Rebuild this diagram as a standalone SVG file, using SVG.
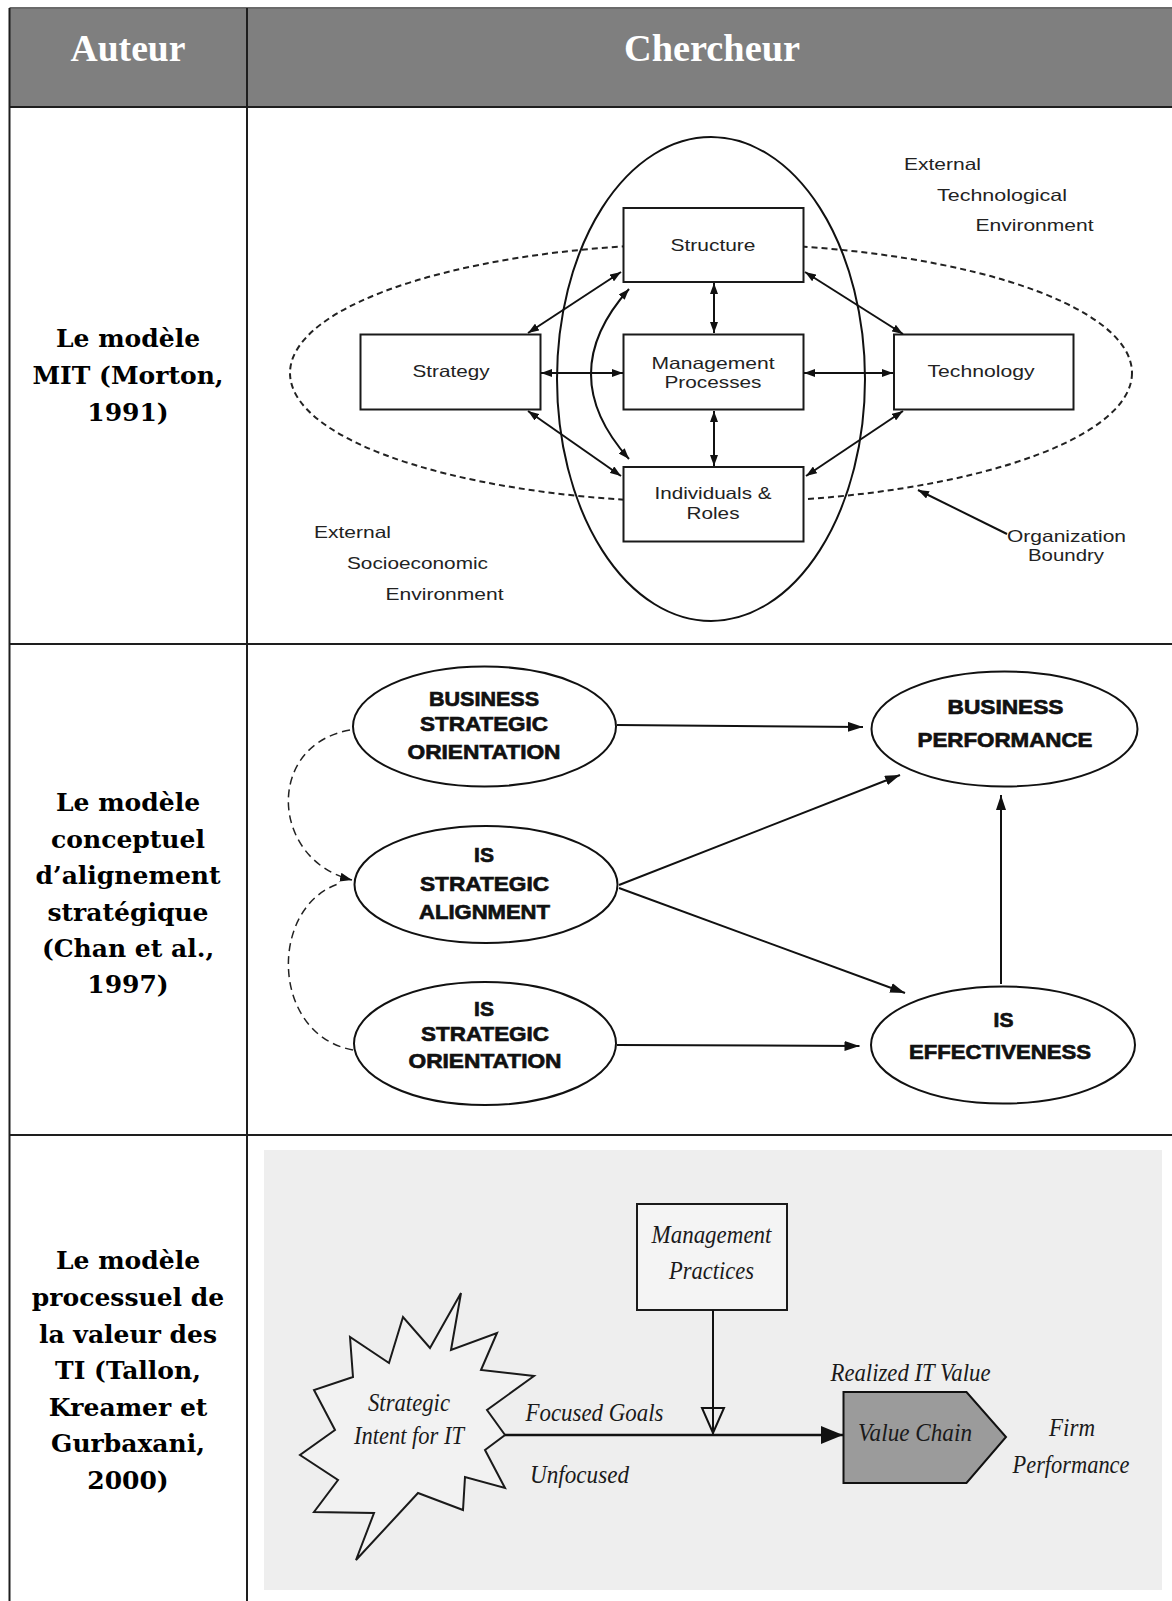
<svg xmlns="http://www.w3.org/2000/svg" width="1172" height="1601" viewBox="0 0 1172 1601">
<style>
.grid{stroke:#1e1e1e;stroke-width:2;fill:none}
.hdr{font-family:"Liberation Serif",serif;font-weight:bold;font-size:38px;fill:#fff;text-anchor:middle}
.lbl{font-family:"DejaVu Serif","Liberation Serif",serif;font-weight:bold;font-size:25px;fill:#000;text-anchor:middle}
.box{fill:#fff;stroke:#1a1a1a;stroke-width:2}
.mt{font-family:"Liberation Sans",Arial,sans-serif;font-size:16.5px;fill:#222;text-anchor:middle}
.mtl{font-family:"Liberation Sans",Arial,sans-serif;font-size:16.5px;fill:#222}
.ln{stroke:#111;stroke-width:2;fill:none}
.ov{fill:#fff;stroke:#111;stroke-width:2}
.ct{font-family:"Liberation Sans",Arial,sans-serif;font-weight:bold;font-size:21px;fill:#111;stroke:#111;stroke-width:0.7;text-anchor:middle}
.dash{stroke:#222;stroke-width:1.5;fill:none;stroke-dasharray:8 5}
.it{font-family:"Liberation Serif",serif;font-style:italic;font-size:26px;fill:#1a1a1a;text-anchor:middle}
.itl{font-family:"Liberation Serif",serif;font-style:italic;font-size:26px;fill:#1a1a1a}
</style>
<defs>
<marker id="mA" viewBox="0 0 11 8" refX="11" refY="4" markerWidth="11" markerHeight="8" markerUnits="userSpaceOnUse" orient="auto-start-reverse"><path d="M0,0 L11,4 L0,8 z" fill="#111"/></marker>
<marker id="mB" viewBox="0 0 15 10" refX="15" refY="5" markerWidth="15" markerHeight="10" markerUnits="userSpaceOnUse" orient="auto"><path d="M0,0 L15,5 L0,10 z" fill="#111"/></marker>
<marker id="mD" viewBox="0 0 12 9" refX="12" refY="4.5" markerWidth="12" markerHeight="9" markerUnits="userSpaceOnUse" orient="auto"><path d="M0,0 L12,4.5 L0,9 z" fill="#111"/></marker>
<marker id="mC" viewBox="0 0 22 18" refX="22" refY="9" markerWidth="22" markerHeight="18" markerUnits="userSpaceOnUse" orient="auto"><path d="M0,0 L22,9 L0,18 z" fill="#111"/></marker>
</defs>
<rect width="1172" height="1601" fill="#fff"/>

<!-- table -->
<g id="table">
<rect x="9.5" y="8" width="1162.5" height="99" fill="#7f7f7f"/>
<line x1="9.5" y1="8" x2="1172" y2="8" stroke="#6a6a6a" stroke-width="2"/>
<line class="grid" x1="9.5" y1="107" x2="1172" y2="107"/>
<line class="grid" x1="9.5" y1="644" x2="1172" y2="644"/>
<line class="grid" x1="9.5" y1="1135" x2="1172" y2="1135"/>
<line class="grid" x1="9.5" y1="8" x2="9.5" y2="1601"/>
<line class="grid" x1="247" y1="8" x2="247" y2="1601"/>
<text class="hdr" x="128" y="61" textLength="115" lengthAdjust="spacingAndGlyphs">Auteur</text>
<text class="hdr" x="712" y="61" textLength="176" lengthAdjust="spacingAndGlyphs">Chercheur</text>
<text class="lbl" x="128"><tspan x="128" y="347">Le modèle</tspan><tspan x="128" y="384">MIT (Morton,</tspan><tspan x="128" y="421">1991)</tspan></text>
<text class="lbl" x="128"><tspan x="128" y="811">Le modèle</tspan><tspan x="128" y="848">conceptuel</tspan><tspan x="128" y="884">d’alignement</tspan><tspan x="128" y="921">stratégique</tspan><tspan x="128" y="957">(Chan et al.,</tspan><tspan x="128" y="993">1997)</tspan></text>
<text class="lbl" x="128"><tspan x="128" y="1269">Le modèle</tspan><tspan x="128" y="1306">processuel de</tspan><tspan x="128" y="1343">la valeur des</tspan><tspan x="128" y="1379">TI (Tallon,</tspan><tspan x="128" y="1416">Kreamer et</tspan><tspan x="128" y="1452">Gurbaxani,</tspan><tspan x="128" y="1489">2000)</tspan></text>
</g>

<!-- ===== MIT model ===== -->
<g id="mit-boundaries">
<ellipse cx="711" cy="373" rx="421" ry="129.5" fill="none" stroke="#222" stroke-width="2" stroke-dasharray="6 4"/>
<ellipse cx="711" cy="379" rx="154" ry="242" fill="none" stroke="#111" stroke-width="2"/>
</g>
<g id="mit-structure"><rect class="box" x="623.5" y="208" width="180" height="74"/><text class="mt" x="713" y="251" textLength="85" lengthAdjust="spacingAndGlyphs">Structure</text></g>
<g id="mit-management"><rect class="box" x="623.5" y="334.5" width="180" height="75"/><text class="mt" x="713" y="368.5" textLength="123" lengthAdjust="spacingAndGlyphs">Management</text><text class="mt" x="713" y="387.5" textLength="97" lengthAdjust="spacingAndGlyphs">Processes</text></g>
<g id="mit-individuals"><rect class="box" x="623.5" y="467" width="180" height="74.5"/><text class="mt" x="713" y="499" textLength="117" lengthAdjust="spacingAndGlyphs">Individuals &amp;</text><text class="mt" x="713" y="518.5" textLength="53" lengthAdjust="spacingAndGlyphs">Roles</text></g>
<g id="mit-strategy"><rect class="box" x="360.5" y="334.5" width="180" height="75"/><text class="mt" x="451" y="377" textLength="77" lengthAdjust="spacingAndGlyphs">Strategy</text></g>
<g id="mit-technology"><rect class="box" x="894" y="334.5" width="179.5" height="75"/><text class="mt" x="981" y="377" textLength="107" lengthAdjust="spacingAndGlyphs">Technology</text></g>
<g id="mit-labels">
<text class="mtl" x="904" y="170" textLength="77" lengthAdjust="spacingAndGlyphs">External</text>
<text class="mtl" x="937" y="201" textLength="130" lengthAdjust="spacingAndGlyphs">Technological</text>
<text class="mtl" x="975.5" y="231" textLength="118" lengthAdjust="spacingAndGlyphs">Environment</text>
<text class="mtl" x="314" y="538" textLength="77" lengthAdjust="spacingAndGlyphs">External</text>
<text class="mtl" x="347" y="569" textLength="141" lengthAdjust="spacingAndGlyphs">Socioeconomic</text>
<text class="mtl" x="385.5" y="600" textLength="118" lengthAdjust="spacingAndGlyphs">Environment</text>
<text class="mtl" x="1007" y="542" textLength="119" lengthAdjust="spacingAndGlyphs">Organization</text>
<text class="mtl" x="1028" y="561" textLength="76" lengthAdjust="spacingAndGlyphs">Boundry</text>
</g>
<g id="mit-connectors">
<line class="ln" x1="528" y1="333" x2="621" y2="272" marker-start="url(#mA)" marker-end="url(#mA)"/>
<line class="ln" x1="528" y1="411" x2="621" y2="476" marker-start="url(#mA)" marker-end="url(#mA)"/>
<line class="ln" x1="805" y1="272" x2="903" y2="334" marker-start="url(#mA)" marker-end="url(#mA)"/>
<line class="ln" x1="806" y1="476" x2="903" y2="411" marker-start="url(#mA)" marker-end="url(#mA)"/>
<line class="ln" x1="541" y1="373" x2="623" y2="373" marker-start="url(#mA)" marker-end="url(#mA)"/>
<line class="ln" x1="804" y1="373" x2="893" y2="373" marker-start="url(#mA)" marker-end="url(#mA)"/>
<line class="ln" x1="714" y1="283" x2="714" y2="333" marker-start="url(#mA)" marker-end="url(#mA)"/>
<line class="ln" x1="714" y1="411" x2="714" y2="466" marker-start="url(#mA)" marker-end="url(#mA)"/>
<path class="ln" d="M629,289 Q553,374 629,459" marker-start="url(#mA)" marker-end="url(#mA)"/>
<line class="ln" x1="1007" y1="534" x2="918" y2="490" marker-end="url(#mA)"/>
</g>

<!-- ===== Chan model ===== -->
<g id="chan-bso"><ellipse class="ov" cx="484.5" cy="726.5" rx="131.5" ry="60"/>
<text class="ct" x="484" y="705.5" textLength="110" lengthAdjust="spacingAndGlyphs">BUSINESS</text>
<text class="ct" x="484" y="731" textLength="128" lengthAdjust="spacingAndGlyphs">STRATEGIC</text>
<text class="ct" x="484" y="759" textLength="153" lengthAdjust="spacingAndGlyphs">ORIENTATION</text></g>
<g id="chan-issa"><ellipse class="ov" cx="486" cy="884.5" rx="131.5" ry="58.5"/>
<text class="ct" x="484" y="862">IS</text>
<text class="ct" x="484.5" y="890.5" textLength="129" lengthAdjust="spacingAndGlyphs">STRATEGIC</text>
<text class="ct" x="484.5" y="919" textLength="131" lengthAdjust="spacingAndGlyphs">ALIGNMENT</text></g>
<g id="chan-isso"><ellipse class="ov" cx="485" cy="1043.5" rx="131" ry="61.5"/>
<text class="ct" x="484" y="1015.5">IS</text>
<text class="ct" x="485" y="1040.5" textLength="128" lengthAdjust="spacingAndGlyphs">STRATEGIC</text>
<text class="ct" x="485" y="1068" textLength="153" lengthAdjust="spacingAndGlyphs">ORIENTATION</text></g>
<g id="chan-bp"><ellipse class="ov" cx="1004.5" cy="729" rx="133" ry="57.5"/>
<text class="ct" x="1005.5" y="714" textLength="116" lengthAdjust="spacingAndGlyphs">BUSINESS</text>
<text class="ct" x="1005" y="747" textLength="175" lengthAdjust="spacingAndGlyphs">PERFORMANCE</text></g>
<g id="chan-ise"><ellipse class="ov" cx="1003" cy="1045" rx="132" ry="58.5"/>
<text class="ct" x="1003.5" y="1027">IS</text>
<text class="ct" x="1000" y="1059" textLength="182" lengthAdjust="spacingAndGlyphs">EFFECTIVENESS</text></g>
<g id="chan-connectors">
<line class="ln" x1="617" y1="725" x2="863" y2="727" marker-end="url(#mB)"/>
<line class="ln" x1="619" y1="885" x2="900" y2="775" marker-end="url(#mB)"/>
<line class="ln" x1="619" y1="888" x2="905" y2="993" marker-end="url(#mB)"/>
<line class="ln" x1="617" y1="1045" x2="859.5" y2="1046" marker-end="url(#mB)"/>
<line class="ln" x1="1001" y1="984" x2="1001" y2="795" marker-end="url(#mB)"/>
<path class="dash" d="M350,730 C265,745 270,860 352,880" marker-end="url(#mD)"/>
<path class="dash" d="M353,1050 C270,1035 268,905 341,883"/>
</g>

<!-- ===== Tallon model ===== -->
<rect id="tallon-bg" x="264" y="1150" width="898" height="440" fill="#eeeeee"/>
<g id="tallon-mgmt"><rect x="637" y="1204" width="150" height="106" fill="#f4f4f4" stroke="#1a1a1a" stroke-width="2"/>
<text class="it" x="711.5" y="1243" textLength="120" lengthAdjust="spacingAndGlyphs">Management</text>
<text class="it" x="711.5" y="1279" textLength="85" lengthAdjust="spacingAndGlyphs">Practices</text></g>
<g id="tallon-intent"><polygon points="461,1293 451,1350 497,1333 481,1370 534,1376 487,1410 505,1435 485,1450 505,1488 465,1477 463,1510 418,1493 356,1560 374,1513 314,1512 338,1480 300,1455 335,1430 314,1390 353,1377 350,1337 389,1363 403,1317 430,1348" fill="#f2f2f2" stroke="#1a1a1a" stroke-width="2" stroke-linejoin="miter"/>
<text class="it" x="409" y="1411" font-size="25" textLength="82" lengthAdjust="spacingAndGlyphs">Strategic</text>
<text class="it" x="409" y="1444" font-size="25" textLength="110" lengthAdjust="spacingAndGlyphs">Intent for IT</text></g>
<g id="tallon-valuechain"><polygon points="843.5,1392 966.5,1392 1006,1437 966.5,1483 843.5,1483" fill="#9b9b9b" stroke="#111" stroke-width="2"/>
<text class="it" x="915" y="1441" textLength="114" lengthAdjust="spacingAndGlyphs">Value Chain</text></g>
<g id="tallon-labels">
<text class="it" x="910.5" y="1381" font-size="25" textLength="160" lengthAdjust="spacingAndGlyphs">Realized IT Value</text>
<text class="it" x="1072" y="1436" textLength="46" lengthAdjust="spacingAndGlyphs">Firm</text>
<text class="it" x="1071" y="1473" textLength="117" lengthAdjust="spacingAndGlyphs">Performance</text>
<text class="itl" x="525.5" y="1421" textLength="138" lengthAdjust="spacingAndGlyphs">Focused Goals</text>
<text class="itl" x="530" y="1483" textLength="99" lengthAdjust="spacingAndGlyphs">Unfocused</text>
</g>
<g id="tallon-connectors">
<line x1="505" y1="1435" x2="843" y2="1435" stroke="#111" stroke-width="2.5" marker-end="url(#mC)"/>
<polygon points="702,1408 724,1408 713,1433" fill="#eeeeee" stroke="#111" stroke-width="2"/>
<line x1="713" y1="1310" x2="713" y2="1434" stroke="#111" stroke-width="2"/>
</g>
</svg>
